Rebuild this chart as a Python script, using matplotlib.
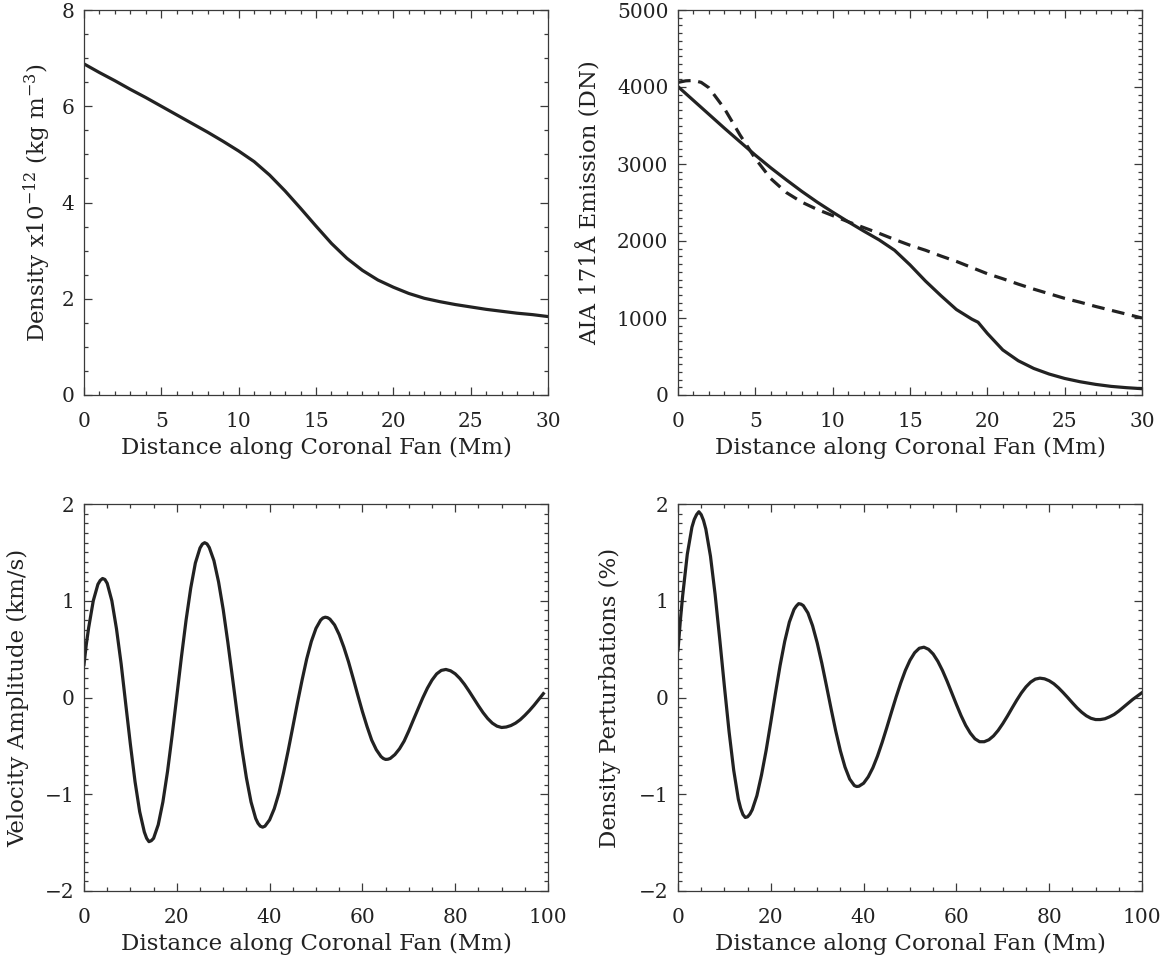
import matplotlib
matplotlib.use("Agg")
import matplotlib.pyplot as plt
from matplotlib.ticker import MultipleLocator

plt.rcParams['font.family'] = ['DejaVu Serif']
plt.rcParams['mathtext.fontset'] = 'dejavuserif'

# ---------------- data ----------------
# Top-left: density along the fan (x in Mm)
dens_x = list(range(0, 31))
dens_y = [6.88, 6.70, 6.53, 6.35, 6.18, 6.00, 5.82, 5.64, 5.46, 5.27,
          5.07, 4.85, 4.57, 4.24, 3.88, 3.51, 3.15, 2.84, 2.59, 2.39,
          2.24, 2.11, 2.01, 1.94, 1.88, 1.83, 1.78, 1.74, 1.70, 1.67, 1.63]

# Top-right: AIA 171 emission, model (solid) and observed (dashed)
aia_model_x = list(range(0, 20)) + [19.4] + list(range(20, 31))
aia_model_y = [4005, 3825, 3645, 3465, 3290, 3115, 2950, 2795, 2645, 2505,
               2375, 2250, 2130, 2015, 1880, 1690, 1480, 1290, 1110, 985,
               945,
               800, 585, 445, 345, 272, 215, 172, 138, 112, 95, 82]
aia_obs_x = [0, 0.5, 1, 1.5] + list(range(2, 31))
aia_obs_y = [4060, 4080, 4085, 4060,
             3990, 3720, 3380, 3070, 2810, 2630, 2505, 2410, 2330, 2250,
             2175, 2100, 2020, 1945, 1880, 1805, 1735, 1655, 1575, 1510,
             1440, 1375, 1315, 1255, 1205, 1150, 1100, 1050, 1000]

# Bottom-left: velocity amplitude (km/s), (distance, value) pairs
vel = [(0, 0.34), (0.5, 0.55), (1, 0.72), (2, 1.00), (3, 1.17), (3.5, 1.21),
       (4, 1.23), (4.5, 1.22), (5, 1.18), (6, 1.00), (7, 0.71), (8, 0.35),
       (9, -0.07), (10, -0.485), (11, -0.87), (12, -1.18), (13, -1.39),
       (13.5, -1.455), (14, -1.49), (14.5, -1.48), (15, -1.455), (16, -1.315),
       (17, -1.08), (18, -0.765), (19, -0.39), (20, 0.013), (21, 0.42),
       (22, 0.80), (23, 1.13), (24, 1.39), (25, 1.545), (25.5, 1.585),
       (26, 1.60), (26.5, 1.588), (27, 1.55), (28, 1.415), (29, 1.195),
       (30, 0.91), (31, 0.57), (32, 0.205), (33, -0.165), (34, -0.52),
       (35, -0.83), (36, -1.08), (37, -1.25), (37.5, -1.30), (38, -1.33),
       (38.5, -1.34), (39, -1.33), (40, -1.265), (41, -1.15), (42, -0.99),
       (43, -0.78), (44, -0.55), (45, -0.305), (46, -0.056), (47, 0.18),
       (48, 0.40), (49, 0.58), (50, 0.715), (51, 0.80), (51.5, 0.822),
       (52, 0.83), (52.5, 0.825), (53, 0.81), (54, 0.75), (55, 0.65),
       (56, 0.52), (57, 0.37), (58, 0.20), (59, 0.025), (60, -0.145),
       (61, -0.30), (62, -0.44), (63, -0.54), (64, -0.61), (64.5, -0.63),
       (65, -0.64), (65.5, -0.638), (66, -0.63), (67, -0.59), (68, -0.53),
       (69, -0.45), (70, -0.345), (71, -0.23), (72, -0.117), (73, -0.005),
       (74, 0.096), (75, 0.18), (76, 0.244), (77, 0.28), (78, 0.29),
       (79, 0.276), (80, 0.245), (81, 0.197), (82, 0.136), (83, 0.065),
       (84, -0.01), (85, -0.085), (86, -0.156), (87, -0.217), (88, -0.265),
       (89, -0.296), (90, -0.31), (91, -0.305), (92, -0.29), (93, -0.265),
       (94, -0.23), (95, -0.185), (96, -0.135), (97, -0.08), (98, -0.02),
       (99, 0.04)]

# Bottom-right: density perturbations (%), (distance, value) pairs
dpert = [(0, 0.49), (0.5, 0.79), (1, 1.05), (2, 1.48), (3, 1.76), (3.5, 1.84),
         (4, 1.89), (4.5, 1.92), (5, 1.89), (5.5, 1.83), (6, 1.74), (7, 1.46),
         (8, 1.065), (9, 0.60), (10, 0.115), (11, -0.35), (12, -0.75),
         (13, -1.05), (13.5, -1.145), (14, -1.21), (14.5, -1.24), (15, -1.233),
         (15.5, -1.205), (16, -1.16), (17, -1.015), (18, -0.80), (19, -0.545),
         (20, -0.255), (21, 0.044), (22, 0.33), (23, 0.58), (24, 0.78),
         (25, 0.91), (25.5, 0.945), (26, 0.97), (26.5, 0.965), (27, 0.95),
         (28, 0.874), (29, 0.742), (30, 0.565), (31, 0.354), (32, 0.12),
         (33, -0.118), (34, -0.347), (35, -0.552), (36, -0.72), (37, -0.843),
         (38, -0.91), (38.5, -0.92), (39, -0.917), (40, -0.886), (41, -0.82),
         (42, -0.726), (43, -0.605), (44, -0.464), (45, -0.311), (46, -0.152),
         (47, 0.004), (48, 0.15), (49, 0.28), (50, 0.385), (51, 0.463),
         (52, 0.509), (53, 0.52), (54, 0.498), (55, 0.449), (56, 0.374),
         (57, 0.279), (58, 0.168), (59, 0.048), (60, -0.072), (61, -0.187),
         (62, -0.288), (63, -0.368), (64, -0.427), (65, -0.457), (66, -0.457),
         (67, -0.437), (68, -0.397), (69, -0.34), (70, -0.27), (71, -0.192),
         (72, -0.109), (73, -0.028), (74, 0.047), (75, 0.11), (76, 0.159),
         (77, 0.19), (78, 0.20), (79, 0.193), (80, 0.173), (81, 0.142),
         (82, 0.10), (83, 0.051), (84, -0.001), (85, -0.055), (86, -0.107),
         (87, -0.152), (88, -0.189), (89, -0.215), (90, -0.228), (91, -0.228),
         (92, -0.22), (93, -0.20), (94, -0.175), (95, -0.14), (96, -0.10),
         (97, -0.06), (98, -0.02), (99, 0.015), (100, 0.05)]

xlabel = "Distance along Coronal Fan (Mm)"
ylabels = [r"Density x10$^{\mathregular{-12}}$ (kg m$^{\mathregular{-3}}$)",
           "AIA 171Å Emission (DN)",
           "Velocity Amplitude (km/s)",
           "Density Perturbations (%)"]

# ---------------- figure ----------------
W, H = 1166, 959
fig = plt.figure(figsize=(W / 100, H / 100), dpi=100)
FS_LAB = 16.5
FS_TICK = 14.5
INK = '#222222'
FRAME = '#3a3a3a'


def add_axes(l, r, t, b):
    return fig.add_axes([l / W, 1 - b / H, (r - l) / W, (b - t) / H])


def style(ax, xlim, ylim, xmaj, xmin, ymaj, ymin, ylab, ylab_x):
    ax.set_xlim(*xlim)
    ax.set_ylim(*ylim)
    ax.xaxis.set_major_locator(MultipleLocator(xmaj))
    ax.xaxis.set_minor_locator(MultipleLocator(xmin))
    ax.yaxis.set_major_locator(MultipleLocator(ymaj))
    ax.yaxis.set_minor_locator(MultipleLocator(ymin))
    ax.tick_params(which='both', direction='in', top=True, right=True,
                   color=FRAME, width=0.9, labelsize=FS_TICK, labelcolor=INK)
    ax.tick_params(which='major', length=5.5)
    ax.tick_params(which='minor', length=3.0)
    ax.tick_params(axis='x', which='major', pad=12)
    ax.tick_params(axis='y', which='major', pad=7)
    for s in ax.spines.values():
        s.set_color(FRAME)
        s.set_linewidth(0.9)
    ax.set_xlabel(xlabel, fontsize=FS_LAB, color=INK)
    ax.xaxis.set_label_coords(0.5, -0.108)
    ax.set_ylabel(ylab, fontsize=FS_LAB, color=INK)
    ax.yaxis.set_label_coords(ylab_x, 0.5)
    ax.yaxis.label.set_verticalalignment('center')


ax1 = add_axes(84, 548, 10, 395)
ax2 = add_axes(678, 1142, 10, 395)
ax3 = add_axes(84, 548, 504, 891)
ax4 = add_axes(678, 1142, 504, 891)

LW = 2.3
ax1.plot(dens_x, dens_y, color=INK, lw=LW, solid_joinstyle='round')
style(ax1, (0, 30), (0, 8), 5, 1, 2, 0.5, ylabels[0], -0.101)

ax2.plot(aia_model_x, aia_model_y, color=INK, lw=LW, solid_joinstyle='round')
ax2.plot(aia_obs_x, aia_obs_y, color=INK, lw=LW, dashes=(4.0, 2.4))
style(ax2, (0, 30), (0, 5000), 5, 1, 1000, 100, ylabels[1], -0.192)

ax3.plot([p[0] for p in vel], [p[1] for p in vel], color=INK, lw=LW,
         solid_joinstyle='round')
style(ax3, (0, 100), (-2, 2), 20, 5, 1, 0.1, ylabels[2], -0.142)

ax4.plot([p[0] for p in dpert], [p[1] for p in dpert], color=INK, lw=LW,
         solid_joinstyle='round')
style(ax4, (0, 100), (-2, 2), 20, 5, 1, 0.1, ylabels[3], -0.147)

fig.savefig("out.png", dpi=100)
